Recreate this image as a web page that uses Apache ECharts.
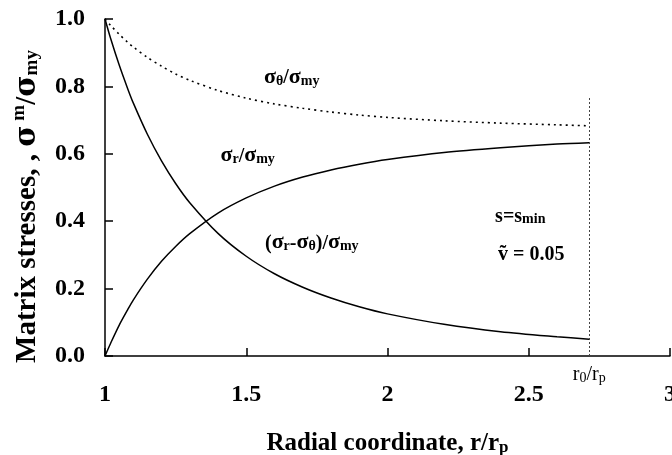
<!DOCTYPE html>
<html>
<head>
<meta charset="utf-8">
<script src="https://cdn.jsdelivr.net/npm/echarts@6/dist/echarts.min.js"></script>
<style>
  html, body { margin: 0; padding: 0; background: #fff; }
  #chart_box { width: 672px; height: 455px; }
</style>
</head>
<body>
<div id="chart_box"></div>
<script>
(function() {

    // data
    var radius = [1.00, 1.02, 1.05, 1.08, 1.10, 1.15, 1.20, 1.25, 1.30, 1.40, 1.50, 1.60, 1.70, 1.80, 1.90, 2.00, 2.20, 2.40, 2.60, 2.714];
    var sigmaTheta = [1.000, 0.981, 0.955, 0.931, 0.917, 0.886, 0.860, 0.837, 0.818, 0.788, 0.765, 0.748, 0.735, 0.724, 0.715, 0.708, 0.698, 0.691, 0.686, 0.683];
    var sigmaR = [0.000, 0.038, 0.091, 0.137, 0.166, 0.228, 0.281, 0.325, 0.363, 0.424, 0.469, 0.504, 0.531, 0.552, 0.569, 0.583, 0.604, 0.618, 0.629, 0.633];
    var sigmaDiff = [1.000, 0.942, 0.864, 0.794, 0.751, 0.658, 0.579, 0.512, 0.455, 0.364, 0.296, 0.244, 0.204, 0.172, 0.146, 0.125, 0.094, 0.072, 0.057, 0.050];
    var outerRadius = 2.714;
    var outerLineTop = 0.77;
    var yTicks = [0, 0.2, 0.4, 0.6, 0.8, 1.0];
    var xTicks = [1, 1.5, 2, 2.5, 3];

    var serif = "'Liberation Serif', 'Times New Roman', serif";
    var greek = "'DejaVu Serif', serif";

    function pairs(xs, ys) {
        var out = [];
        for (var i = 0; i < xs.length; i++) {
            out.push([xs[i], ys[i]]);
        }
        return out;
    }

    function txt(size, lh, va, bold, family) {
        return {
            fontFamily: family || serif,
            fontWeight: bold === false ? 'normal' : 'bold',
            fontSize: size,
            lineHeight: lh,
            verticalAlign: va,
            color: '#000'
        };
    }

    // rich text styles for the labels with subscripts
    var rich = {
        a: txt(20, 24, 'bottom'),
        g: txt(22, 24, 'bottom'),
        s: txt(14, 8, 'bottom')
    };

    // annotations: [x, y, text]
    var notes = [
        [1.661, 0.830, '{g|σ}{s|θ}{a|/}{g|σ}{s|my}'],
        [1.505, 0.597, '{g|σ}{s|r}{a|/}{g|σ}{s|my}'],
        [1.732, 0.339, '{a|(}{g|σ}{s|r}{a|-}{g|σ}{s|θ}{a|)/}{g|σ}{s|my}'],
        [2.470, 0.419, '{a|s=s}{s|min}'],
        [2.509, 0.306, '{a|ṽ = 0.05}']
    ];
    var noteData = [];
    for (var i = 0; i < notes.length; i++) {
        noteData.push({ value: [notes[i][0], notes[i][1]], text: notes[i][2] });
    }

    var myChart = echarts.init(document.getElementById('chart_box'));

    myChart.setOption({
        animation: false,
        backgroundColor: '#fff',
        grid: {
            left: 105,
            right: 2,
            top: 19,
            bottom: 99,
            outerBoundsMode: 'none'
        },
        xAxis: {
            type: 'value',
            min: xTicks[0],
            max: xTicks[xTicks.length - 1],
            interval: 0.5,
            axisLine: { lineStyle: { color: '#000', width: 1.5 } },
            axisTick: { inside: true, length: 8, lineStyle: { color: '#000', width: 1.5 } },
            splitLine: { show: false },
            axisLabel: {
                margin: 27,
                color: '#000',
                fontFamily: serif,
                fontWeight: 'bold',
                fontSize: 24
            },
            name: '{a|Radial coordinate, r/r}{s|p}',
            nameLocation: 'middle',
            nameGap: 72,
            nameTextStyle: {
                rich: {
                    a: txt(25, 28, 'bottom'),
                    s: txt(17, 8, 'bottom')
                }
            }
        },
        yAxis: {
            type: 'value',
            min: yTicks[0],
            max: yTicks[yTicks.length - 1],
            interval: 0.2,
            axisLine: { lineStyle: { color: '#000', width: 1.5 } },
            axisTick: { inside: true, length: 8, lineStyle: { color: '#000', width: 1.5 } },
            splitLine: { show: false },
            axisLabel: {
                margin: 20,
                color: '#000',
                fontFamily: serif,
                fontWeight: 'bold',
                fontSize: 24,
                formatter: function(v) { return v.toFixed(1); }
            },
            name: '{a|Matrix stresses, , }{g|σ}{u| m}{a|/}{g|σ}{s|my}',
            nameLocation: 'middle',
            nameRotate: 90,
            nameGap: 63,
            nameTextStyle: {
                padding: [0, 38, 0, 0],
                rich: {
                    a: txt(29, 32, 'bottom'),
                    g: txt(29, 32, 'bottom', true, greek),
                    s: txt(19, 8, 'bottom'),
                    u: txt(19, 6, 'top')
                }
            }
        },
        series: [{
            name: 'theta',
            type: 'line',
            data: pairs(radius, sigmaTheta),
            smooth: 0.3,
            showSymbol: false,
            lineStyle: { color: '#000', width: 1.6, type: [2, 4] }
        }, {
            name: 'r',
            type: 'line',
            data: pairs(radius, sigmaR),
            smooth: 0.3,
            showSymbol: false,
            lineStyle: { color: '#000', width: 1.5 },
            markLine: {
                silent: true,
                symbol: 'none',
                lineStyle: { color: '#444', width: 1, type: [2, 2] },
                label: {
                    show: true,
                    position: 'start',
                    distance: 7,
                    formatter: '{a|r}{s|0}{a|/r}{s|p}',
                    rich: {
                        a: txt(20, 22, 'bottom', false),
                        s: txt(14, 6, 'bottom', false)
                    }
                },
                data: [[{ coord: [outerRadius, 0] }, { coord: [outerRadius, outerLineTop] }]]
            }
        }, {
            name: 'diff',
            type: 'line',
            data: pairs(radius, sigmaDiff),
            smooth: 0.3,
            showSymbol: false,
            lineStyle: { color: '#000', width: 1.5 }
        }, {
            name: 'notes',
            type: 'scatter',
            symbolSize: 2,
            silent: true,
            itemStyle: { color: '#fff', opacity: 1 },
            data: noteData,
            label: {
                show: true,
                position: ['50%', '50%'],
                align: 'center',
                verticalAlign: 'middle',
                color: '#000',
                opacity: 1,
                formatter: function(p) { return p.data.text; },
                rich: rich
            }
        }]
    });
})();
</script>
</body>
</html>
